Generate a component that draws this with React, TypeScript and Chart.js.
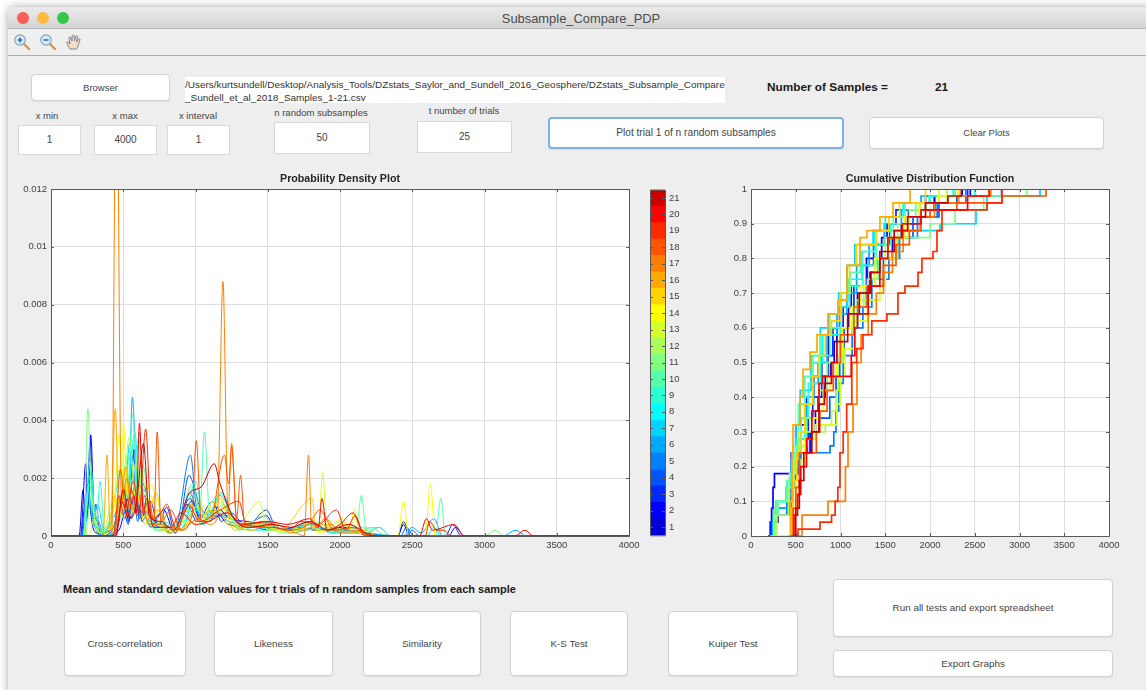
import React, { useEffect, useRef } from "react";
import { Chart, registerables } from "chart.js";

Chart.register(...registerables);

type Pt = [number, number];

const sampleLabels = ["1","2","3","4","5","6","7","8","9","10","11","12","13","14","15","16","17","18","19","20","21"];
const sampleColors = ["#0000d4","#0000ff","#002aff","#0055ff","#0080ff","#00aaff","#00d4ff","#00ffff","#2affd4","#55ffaa","#80ff80","#aaff55","#d4ff2a","#ffff00","#ffd400","#ffaa00","#ff8000","#ff5500","#ff2a00","#ff0000","#cc0000"];
const xTicks = [0, 500, 1000, 1500, 2000, 2500, 3000, 3500, 4000];

const pdp01: Pt[] = [[0,0],[195,0],[222,.0016],[240,.0005],[262,.0012],[290,.0003],[320,.0001],[440,.0003],[505,.0012],[540,.0005],[575,.003],[610,.0008],[650,.0014],[690,.0003],[760,.0008],[820,.0001],[905,.0006],[975,.0012],[1040,.0004],[1140,.0008],[1230,.0004],[1400,.0003],[1520,.0002],[1720,.0003],[1860,.0002],[2020,.0003],[2120,.0001],[2400,0],[2440,.0004],[2480,0],[4000,0]];
const pdp02: Pt[] = [[0,0],[205,0],[240,.0025],[258,.0008],[275,.0035],[300,.0007],[330,.0005],[360,0],[470,.0002],[540,.0014],[600,.0007],[640,.0018],[700,.0004],[780,.0009],[850,.0002],[960,.0013],[1050,.0005],[1140,.001],[1240,.0006],[1360,.0005],[1500,.0004],[1620,.0002],[1780,.0004],[1950,.0002],[2080,.0003],[2200,0],[2750,0],[2800,.0003],[2860,0],[4000,0]];
const pdp03: Pt[] = [[0,0],[210,0],[232,.001],[250,.0006],[270,.0034],[295,.0006],[310,.0011],[345,0],[460,.0005],[515,.0016],[555,.0006],[590,.0024],[630,.0005],[690,.0012],[740,0.0003],[800,.001],[860,.0001],[940,.0011],[1010,.0005],[1120,.0012],[1180,.0005],[1245,.0008],[1340,.0004],[1490,.0007],[1560,.0002],[1800,.0004],[1900,.0002],[2060,.0002],[2180,.0001],[2400,0],[2440,.0005],[2490,0],[2730,0],[2780,.0004],[2840,0],[4000,0]];
const pdp04: Pt[] = [[0,0],[215,0],[250,.0018],[285,.0005],[315,.0003],[360,0],[450,.0002],[500,.0009],[535,.0004],[570,.0028],[610,.0006],[660,.0011],[700,.0006],[770,.0004],[880,.0003],[955,.0021],[985,.0018],[1040,.0009],[1150,.0007],[1240,.0007],[1350,.0003],[1490,.0009],[1570,.0002],[1730,.0003],[1830,.0002],[2100,.0003],[2190,0],[2420,0],[2460,.0003],[2510,0],[4000,0]];
const pdp05: Pt[] = [[0,0],[225,0],[262,.0014],[300,.0004],[340,0],[430,.0003],[490,.0013],[530,.0005],[555,.0025],[600,.0005],[640,.0016],[720,.0003],[860,.0003],[965,.0028],[1010,.0009],[1100,.0006],[1200,.0008],[1320,.0003],[1460,.0005],[1620,.0002],[1790,.0005],[1950,.0001],[2120,.0003],[2200,0],[2450,0],[2500,.0002],[2550,0],[4000,0]];
const pdp06: Pt[] = [[0,0],[215,0],[255,.0012],[300,.0009],[345,0],[440,.0007],[500,.0015],[535,.0008],[563,.0048],[600,.0012],[650,.001],[720,.0003],[880,.0004],[960,.0015],[1030,.0007],[1120,.0009],[1230,.0005],[1380,.0004],[1530,.0003],[1740,.0002],[1900,.0003],[2050,.0002],[2180,.0001],[2440,0],[2500,.0003],[2560,.0001],[2650,.0006],[2710,0],[3130,0],[3215,.0002],[3290,0],[4000,0]];
const pdp07: Pt[] = [[0,0],[225,0],[258,.0016],[290,.0006],[322,.0011],[370,.0001],[450,.0012],[500,.0008],[545,.0032],[590,.0011],[630,.0009],[690,.0003],[770,.0005],[900,.0002],[990,.0012],[1060,.0004],[1170,.0014],[1280,.0005],[1460,.0003],[1620,.0002],[1820,.0003],[2040,.0001],[2190,.0001],[2270,.0003],[2350,0],[2600,0],[2650,.0003],[2700,0],[4000,0]];
const pdp08: Pt[] = [[0,0],[230,0],[270,.0021],[305,.0005],[350,.0002],[410,.0004],[480,.0022],[520,.0007],[580,.0036],[620,.001],[665,.0012],[720,.0002],[880,.0002],[1000,.0009],[1080,.0006],[1180,.0015],[1290,.0004],[1420,.0003],[1600,.0002],[1810,.0004],[1980,.0001],[2270,.0003],[2350,0],[4000,0]];
const pdp09: Pt[] = [[0,0],[225,0],[272,.0026],[312,.0003],[340,.0019],[372,0],[470,.0006],[530,.0028],[570,.0008],[610,.0036],[650,.0008],[700,.0007],[800,.0002],[930,.0006],[1000,.0019],[1050,.0008],[1100,.0007],[1170,.0015],[1300,.0003],[1420,.0002],[1600,.0002],[1780,.0003],[1960,.0001],[2080,.0003],[2150,.0002],[2210,0],[4000,0]];
const pdp10: Pt[] = [[0,0],[220,0],[268,.0018],[310,.0004],[345,.0003],[390,0],[480,.0009],[535,.0019],[565,.0042],[600,.0014],[640,.0024],[690,.0003],[860,.0002],[980,.0018],[1030,.0009],[1062,.0036],[1100,.0005],[1190,.0011],[1300,.0002],[1480,.0004],[1640,.0001],[1900,.0003],[2080,.0002],[2112,.0002],[2148,.0014],[2180,.0002],[2225,0],[2660,0],[2698,.0013],[2730,0],[4000,0]];
const pdp11: Pt[] = [[0,0],[228,0],[255,.0044],[285,.0009],[312,.0008],[360,0],[450,.0004],[520,.0021],[560,.0008],[600,.0028],[645,.0007],[700,.0005],[820,.0001],[960,.0009],[1040,.0005],[1150,.0014],[1260,.0005],[1400,.0003],[1500,.0004],[1680,.0001],[1800,.0005],[2000,.0002],[2100,.0003],[2200,.0003],[2330,0],[3000,0],[3070,.0002],[3140,0],[4000,0]];
const pdp12: Pt[] = [[0,0],[240,0],[275,.0014],[315,.0002],[350,.0001],[440,.0013],[490,.0006],[540,.0034],[590,.0011],[625,.0022],[680,.0006],[740,.0002],[880,.0003],[970,.0011],[1040,.0004],[1160,.0012],[1240,.0006],[1340,.0003],[1470,.0007],[1580,.0001],[1760,.0004],[1890,.0003],[2010,.0005],[2130,.0001],[2190,.0003],[2240,0],[4000,0]];
const pdp13: Pt[] = [[0,0],[260,0],[300,.0006],[340,.0001],[425,.0009],[480,.0024],[515,.0009],[590,.0025],[640,.0006],[690,.0014],[760,.0003],[900,.0002],[1010,.001],[1060,.0005],[1180,.001],[1300,.0004],[1380,.0009],[1440,.0012],[1500,.0002],[1700,.0002],[1800,.0003],[1850,.0002],[1880,.0022],[1910,.0002],[2010,.0004],[2120,.0002],[2200,0],[4000,0]];
const pdp14: Pt[] = [[0,0],[300,0],[420,.0002],[475,.0035],[495,.0012],[500,.0039],[530,.0013],[575,.0015],[640,.0009],[685,.0018],[735,.0012],[820,.0003],[960,.0005],[1020,.0004],[1120,.0012],[1250,.0003],[1400,.0005],[1600,.0002],[1810,.0003],[1860,.0001],[2025,.0006],[2070,.0002],[2100,.001],[2130,.0001],[2400,0],[2440,.0012],[2475,0],[2590,0],[2625,.0018],[2660,0],[4000,0]];
const pdp15: Pt[] = [[0,0],[340,0],[395,.0002],[440,.0014],[480,.0007],[515,.0024],[550,.0007],[600,.0014],[650,.0004],[730,.0015],[780,.0002],[920,.0003],[1030,.0012],[1080,.0005],[1170,.0013],[1270,.0002],[1420,.0004],[1580,.0002],[1810,.0013],[1830,.0002],[1970,.0002],[2070,.0004],[2200,0],[4000,0]];
const pdp16: Pt[] = [[0,0],[360,0],[388,.0028],[410,.0002],[445,.0044],[470,.0008],[520,.0024],[555,.0009],[610,.0018],[670,.0005],[740,.0009],[810,.0001],[950,.0004],[1040,.0007],[1120,.0009],[1280,.0003],[1400,.0002],[1540,.0005],[1660,.0001],[1800,.0003],[1930,.0004],[2060,.0001],[2180,.0002],[2250,0],[4000,0]];
const pdp17: Pt[] = [[0,0],[420,0],[452,.018],[488,.0012],[525,.002],[560,.0009],[620,.0013],[680,.0004],[760,.0004],[900,.0002],[1020,.0006],[1100,.0004],[1150,.0006],[1190,.0088],[1225,.0008],[1250,.0032],[1285,.0005],[1400,.0003],[1540,.0004],[1700,.0001],[1752,0],[1782,.0028],[1805,.0002],[1900,.0006],[2000,.0001],[2100,.0002],[2200,0],[4000,0]];
const pdp18: Pt[] = [[0,0],[440,0],[480,.0023],[520,.0008],[555,.0016],[600,.0007],[680,.0012],[712,.0005],[735,.0036],[760,.0005],[830,.0009],[900,.0002],[975,.0007],[1005,.0033],[1040,.0005],[1100,.0005],[1200,.0028],[1230,.0018],[1250,.0031],[1285,.0006],[1312,.0021],[1340,.0004],[1500,.0005],[1620,.0002],[1780,.0004],[1860,.0009],[1960,.0002],[2100,.0003],[2180,0],[4000,0]];
const pdp19: Pt[] = [[0,0],[430,0],[470,.0014],[510,.0006],[570,.0019],[610,.0008],[655,.0037],[695,.0006],[760,.0008],[800,.0011],[870,.0002],[950,.0011],[1030,.0005],[1170,.0009],[1300,.0012],[1350,.0004],[1530,.0003],[1650,.0002],[1730,.0005],[1850,.0004],[1975,.0009],[2040,.0002],[2105,.0007],[2170,0],[2590,0],[2620,.0005],[2670,.0002],[2720,.0002],[2770,0],[4000,0]];
const pdp20: Pt[] = [[0,0],[445,0],[490,.0012],[530,.0007],[575,.0014],[590,.0008],[612,.0039],[640,.0007],[660,.0013],[710,.0003],[830,.0003],[900,.0008],[1000,.0004],[1090,.0005],[1220,.0008],[1320,.0004],[1500,.0005],[1640,.0004],[1790,.0006],[1850,.0003],[1875,.0013],[1910,.0002],[2000,.0004],[2090,.0008],[2150,.0002],[2240,0],[2550,0],[2598,.0006],[2640,.0002],[2790,.0004],[2860,0],[3210,0],[3280,.0002],[3340,0],[4000,0]];
const pdp21: Pt[] = [[0,0],[450,0],[500,.0016],[545,.0006],[590,.0011],[640,.0032],[680,.0007],[760,.0005],[850,.0002],[960,.0015],[1040,.0017],[1130,.0025],[1170,.0018],[1280,.0005],[1380,.0003],[1520,.0004],[1660,.0003],[1790,.0005],[1920,.0002],[2060,.0004],[2180,.0001],[2260,0],[4000,0]];
const pdpSeries: Pt[][] = [pdp01,pdp02,pdp03,pdp04,pdp05,pdp06,pdp07,pdp08,pdp09,pdp10,pdp11,pdp12,pdp13,pdp14,pdp15,pdp16,pdp17,pdp18,pdp19,pdp20,pdp21];

const cdf01: Pt[] = [[215,0],[245,.04],[300,.06],[430,.08],[450,.14],[490,.2],[560,.24],[660,.3],[720,.36],[750,.4],[830,.46],[890,.5],[930,.56],[960,.6],[1090,.66],[1190,.7],[1330,.76],[1420,.8],[1580,.86],[1680,.9],[1900,.94],[2050,.98],[2360,1],[4000,1]];
const cdf02: Pt[] = [[190,0],[215,.04],[230,.08],[246,.14],[262,.18],[436,.18],[450,.24],[500,.32],[620,.4],[700,.46],[790,.52],[870,.6],[990,.66],[1120,.72],[1290,.8],[1460,.86],[1520,.9],[1760,.94],[2050,.98],[2450,1],[4000,1]];
const cdf03: Pt[] = [[205,0],[225,.04],[260,.08],[420,.1],[450,.16],[490,.22],[530,.28],[640,.34],[690,.4],[790,.46],[860,.52],[915,.6],[1030,.66],[1150,.72],[1300,.78],[1370,.84],[1550,.9],[1620,.94],[1950,.98],[2420,1],[4000,1]];
const cdf04: Pt[] = [[220,0],[250,.06],[420,.1],[470,.18],[530,.24],[630,.3],[760,.34],[880,.4],[950,.46],[990,.52],[1040,.6],[1190,.66],[1290,.72],[1480,.8],[1640,.86],[1810,.92],[2100,.96],[2300,.98],[2800,1],[4000,1]];
const cdf05: Pt[] = [[225,0],[255,.06],[400,.1],[460,.18],[520,.24],[883,.26],[925,.3],[950,.36],[980,.44],[1030,.52],[1130,.6],[1250,.66],[1350,.74],[1540,.8],[1660,.86],[1860,.92],[2080,.96],[2400,1],[4000,1]];
const cdf06: Pt[] = [[210,0],[240,.04],[290,.08],[420,.12],[455,.2],[560,.3],[620,.38],[700,.44],[750,.5],[850,.58],[960,.64],[1070,.7],[1180,.78],[1320,.84],[1490,.9],[1680,.94],[1900,.98],[2320,1],[4000,1]];
const cdf07: Pt[] = [[215,0],[250,.06],[280,.1],[400,.14],[450,.22],[500,.32],[550,.42],[670,.52],[775,.6],[870,.64],[980,.7],[1075,.78],[1160,.84],[1365,.88],[2111,.9],[2514,.94],[2637,.98],[3229,1],[4000,1]];
const cdf08: Pt[] = [[225,0],[260,.05],[290,.1],[390,.14],[460,.2],[510,.28],[600,.4],[690,.5],[800,.58],[1000,.68],[1090,.74],[1240,.82],[1380,.88],[1500,.92],[1700,.96],[2000,.98],[2260,1],[4000,1]];
const cdf09: Pt[] = [[230,0],[260,.06],[300,.1],[410,.16],[480,.24],[560,.34],[640,.44],[780,.52],[880,.6],[1000,.66],[1100,.72],[1250,.78],[1400,.84],[1560,.9],[1720,.96],[1990,.98],[2500,1],[4000,1]];
const cdf10: Pt[] = [[215,0],[255,.06],[285,.1],[400,.16],[470,.26],[530,.38],[600,.46],[690,.52],[780,.58],[880,.64],[1010,.7],[1110,.76],[1220,.82],[1400,.88],[1590,.92],[1840,.96],[2100,.98],[2280,1],[4000,1]];
const cdf11: Pt[] = [[235,0],[262,.08],[300,.1],[430,.18],[500,.26],[620,.34],[760,.42],[850,.5],[990,.6],[1180,.68],[1300,.74],[1420,.8],[1640,.86],[2000,.9],[2280,.94],[2600,.98],[3080,1],[4000,1]];
const cdf12: Pt[] = [[250,0],[285,.06],[420,.14],[480,.22],[530,.3],[830,.32],[900,.36],[950,.42],[975,.5],[1030,.58],[1130,.66],[1260,.72],[1380,.8],[1500,.86],[1640,.9],[1770,.94],[1960,.96],[2190,1],[4000,1]];
const cdf13: Pt[] = [[285,0],[440,.08],[500,.16],[560,.22],[600,.28],[720,.32],[960,.38],[1000,.46],[1050,.54],[1150,.62],[1300,.68],[1440,.72],[1500,.8],[1620,.86],[1760,.92],[1880,.96],[2100,1],[4000,1]];
const cdf14: Pt[] = [[430,0],[460,.06],[500,.14],[560,.2],[600,.28],[680,.34],[760,.36],[810,.42],[880,.46],[950,.52],[1020,.6],[1120,.66],[1230,.72],[1390,.8],[1530,.86],[1710,.92],[1900,.96],[2090,.98],[2320,1],[4000,1]];
const cdf15: Pt[] = [[400,0],[440,.06],[470,.16],[510,.24],[560,.3],[600,.38],[690,.46],[760,.52],[830,.58],[900,.62],[1000,.7],[1100,.78],[1180,.84],[1400,.88],[1540,.92],[1660,.96],[1950,1],[4000,1]];
const cdf16: Pt[] = [[420,0],[445,.1],[458,.24],[469,.32],[547,.4],[581,.48],[659,.53],[737,.58],[860,.64],[972,.68],[1073,.78],[1218,.86],[1296,.88],[1441,.92],[1587,.96],[1777,1],[4000,1]];
const cdf17: Pt[] = [[450,0],[570,.06],[860,.1],[1028,.1],[1055,.2],[1084,.3],[1140,.38],[1184,.5],[1230,.58],[1310,.64],[1400,.7],[1480,.76],[1580,.82],[1700,.88],[1890,.92],[2050,.96],[2320,.98],[2680,1],[4000,1]];
const cdf18: Pt[] = [[440,0],[470,.08],[500,.14],[540,.24],[730,.3],[770,.36],[850,.42],[920,.5],[1000,.58],[1150,.66],[1300,.72],[1480,.78],[1620,.84],[1770,.88],[1900,.92],[2000,.94],[2300,.96],[2804,.98],[3296,1],[4000,1]];
const cdf19: Pt[] = [[505,0],[525,.02],[771,.04],[900,.06],[940,.1],[970,.14],[994,.24],[1030,.3],[1069,.38],[1126,.5],[1181,.54],[1251,.58],[1350,.62],[1519,.64],[1642,.7],[1720,.72],[1866,.76],[1910,.8],[2033,.82],[2078,.88],[2134,.94],[2637,.96],[2804,1],[4000,1]];
const cdf20: Pt[] = [[450,0],[480,.06],[520,.12],[555,.2],[620,.28],[680,.36],[760,.44],[800,.46],[1120,.52],[1160,.6],[1190,.64],[1310,.72],[1440,.8],[1530,.86],[1690,.9],[1900,.94],[2420,.98],[2660,1],[4000,1]];
const cdf21: Pt[] = [[470,0],[500,.08],[540,.16],[590,.24],[680,.3],[760,.38],[820,.44],[900,.5],[960,.56],[1080,.64],[1210,.7],[1340,.76],[1440,.82],[1600,.88],[1750,.92],[1950,.96],[2200,.98],[2350,1],[4000,1]];
const cdfSeries: Pt[][] = [cdf01,cdf02,cdf03,cdf04,cdf05,cdf06,cdf07,cdf08,cdf09,cdf10,cdf11,cdf12,cdf13,cdf14,cdf15,cdf16,cdf17,cdf18,cdf19,cdf20,cdf21];

const FONT = '"Liberation Sans", Arial, sans-serif';
const TEXT = "#404040";
const GRID = "#dedede";
const EDGE = "#5a5a5a";

const framePlugin = {
  id: "frame",
  beforeDraw(chart: any) {
    const { ctx, chartArea: a } = chart;
    ctx.save();
    ctx.fillStyle = "#ffffff";
    ctx.fillRect(a.left, a.top, a.right - a.left, a.bottom - a.top);
    ctx.restore();
  },
  afterDatasetsDraw(chart: any) {
    const { ctx, chartArea: a, scales } = chart;
    ctx.save();
    ctx.strokeStyle = EDGE;
    ctx.lineWidth = 1;
    ctx.beginPath();
    ctx.rect(a.left + 0.5, a.top + 0.5, a.right - a.left, a.bottom - a.top);
    const xs = scales.x;
    const ys = scales.y;
    if (xs && xs.options.display) {
      xs.ticks.forEach((t: any) => {
        const p = Math.round(xs.getPixelForValue(t.value)) + 0.5;
        ctx.moveTo(p, a.bottom); ctx.lineTo(p, a.bottom - 3);
        ctx.moveTo(p, a.top); ctx.lineTo(p, a.top + 3);
      });
    }
    ys.ticks.forEach((t: any) => {
      const p = Math.round(ys.getPixelForValue(t.value)) + 0.5;
      ctx.moveTo(a.left, p); ctx.lineTo(a.left + 3, p);
      ctx.moveTo(a.right, p); ctx.lineTo(a.right - 3, p);
    });
    ctx.stroke();
    ctx.restore();
  },
};

function lineChart(canvas: HTMLCanvasElement, title: string, series: Pt[][], yMax: number, step: number, stepped: boolean, padRight: number) {
  return new Chart(canvas, {
    type: "line",
    data: {
      datasets: series.map((s, i) => ({
        label: sampleLabels[i],
        data: s.map(([x, y]) => ({ x, y })),
        borderColor: sampleColors[i],
        borderWidth: stepped ? 1.7 : 1,
        pointRadius: 0,
        fill: false,
        order: series.length - i,
        stepped: stepped ? ("before" as const) : false,
        cubicInterpolationMode: stepped ? ("default" as const) : ("monotone" as const),
      })),
    },
    options: {
      animation: false,
      responsive: false,
      maintainAspectRatio: false,
      parsing: false,
      layout: { padding: { left: 0, right: padRight, top: 0, bottom: 0 } },
      plugins: {
        legend: { display: false },
        tooltip: { enabled: false },
        title: {
          display: true,
          fullSize: false,
          text: title,
          color: "#262626",
          font: { family: FONT, size: 10.7, weight: "bold" },
          padding: { top: 3, bottom: 3.2 },
        },
      },
      scales: {
        x: {
          type: "linear",
          min: 0,
          max: 4000,
          afterBuildTicks: (s: any) => { s.ticks = xTicks.map((value) => ({ value })); },
          afterFit: (s: any) => { s.height = 20; },
          grid: { color: GRID, drawTicks: false },
          border: { display: false },
          ticks: { color: TEXT, font: { family: FONT, size: 9.5 }, padding: 4, maxRotation: 0, callback: (v: any) => String(v) },
        },
        y: {
          type: "linear",
          min: 0,
          max: yMax,
          afterFit: (s: any) => { s.width = 31; },
          grid: { color: GRID, drawTicks: false },
          border: { display: false },
          ticks: { color: TEXT, font: { family: FONT, size: 9.5 }, padding: 4, stepSize: step, callback: (v: any) => String(+Number(v).toFixed(3)) },
        },
      },
    },
    plugins: [framePlugin],
  } as any);
}

function colorbarChart(canvas: HTMLCanvasElement) {
  return new Chart(canvas, {
    type: "bar",
    data: {
      labels: ["n"],
      datasets: sampleLabels.map((l, i) => ({
        label: l,
        data: [1],
        backgroundColor: sampleColors[i],
        barPercentage: 1,
        categoryPercentage: 1,
        borderWidth: 0,
      })),
    },
    options: {
      animation: false,
      responsive: false,
      maintainAspectRatio: false,
      layout: { padding: { top: 9, bottom: 9, left: 10, right: 0 } },
      plugins: { legend: { display: false }, tooltip: { enabled: false } },
      scales: {
        x: { stacked: true, display: false },
        y: {
          stacked: true,
          position: "right",
          min: 0,
          max: sampleLabels.length,
          afterBuildTicks: (s: any) => { s.ticks = sampleLabels.map((_, i) => ({ value: i + 0.5 })); },
          afterFit: (s: any) => { s.width = 25; },
          grid: { display: false, drawTicks: false },
          border: { display: false },
          ticks: { color: TEXT, font: { family: FONT, size: 9.5 }, padding: 4, callback: (v: any) => String(Number(v) + 0.5) },
        },
      },
    },
    plugins: [framePlugin],
  } as any);
}

const abs = (left: number, top: number, width: number, height: number): React.CSSProperties => ({ position: "absolute", left, top, width, height, boxSizing: "border-box" });

function Label({ cx, y, children }: any) {
  return (
    <div style={{ position: "absolute", left: cx - 150, top: y - 8, width: 300, height: 16, lineHeight: "16px", textAlign: "center", fontSize: 9.5, color: "#444" }}>{children}</div>
  );
}

function Field({ x, y, w, h, value }: any) {
  return (
    <div style={{ ...abs(x, y, w, h), background: "#fff", border: "1px solid #d8d8d8", textAlign: "center", lineHeight: h - 2 + "px", fontSize: 10, color: "#444" }}>{value}</div>
  );
}

function Btn({ x, y, w, h, text, focus, size = 9.9 }: any) {
  return (
    <div style={{ ...abs(x, y, w, h), background: "#fff", border: focus ? "2px solid #7fb0ea" : "1px solid #d2d2d2", borderRadius: 4, textAlign: "center", lineHeight: (focus ? h - 4 : h - 2) + "px", fontSize: size, color: "#444", boxShadow: "0 1px 1px rgba(0,0,0,.08)" }}>{text}</div>
  );
}

function Lens({ x, sign }: { x: number; sign: string }) {
  return (
    <svg style={{ position: "absolute", left: x, top: 33 }} width="18" height="18" viewBox="0 0 18 18">
      <line x1="10" y1="10" x2="16" y2="16" stroke="#d8973a" strokeWidth="2.4" strokeLinecap="round" />
      <circle cx="7" cy="7" r="5.2" fill="#d5ecfa" stroke="#7fa3c7" strokeWidth="1.2" />
      <path d={sign === "+" ? "M4.5 7h5M7 4.5v5" : "M4.5 7h5"} stroke="#1d3f78" strokeWidth="1.2" />
    </svg>
  );
}

export default function App() {
  const pdpRef = useRef<HTMLCanvasElement>(null);
  const barRef = useRef<HTMLCanvasElement>(null);
  const cdfRef = useRef<HTMLCanvasElement>(null);

  useEffect(() => {
    document.body.style.margin = "0";
    document.body.style.background = "#fff";
    const charts = [
      lineChart(pdpRef.current!, "Probability Density Plot", pdpSeries, 0.012, 0.002, false, 31),
      lineChart(cdfRef.current!, "Cumulative Distribution Function", cdfSeries, 1, 0.1, true, 21),
      colorbarChart(barRef.current!),
    ];
    return () => charts.forEach((c) => c.destroy());
  }, []);

  return (
    <div style={{ position: "relative", width: 1146, height: 690, overflow: "hidden", fontFamily: FONT, background: "#fff", filter: "blur(0.5px)" }}>
      <div style={{ ...abs(8, 7, 1146, 690), background: "#eeeeee", borderRadius: "6px 6px 0 0", boxShadow: "0 0 8px rgba(0,0,0,.35)" }} />
      <div style={{ ...abs(8, 7, 1146, 22), background: "linear-gradient(#ebebeb,#d4d4d4)", borderRadius: "6px 6px 0 0", borderBottom: "1px solid #b8b8b8" }} />
      {[["#fc5b57", 23], ["#fdbc40", 43], ["#34c84a", 63]].map(([c, x]) => (
        <div key={String(x)} style={{ ...abs((x as number) - 6, 12, 12, 12), borderRadius: 6, background: c as string }} />
      ))}
      <div style={{ position: "absolute", left: 331, top: 10, width: 500, height: 18, lineHeight: "18px", textAlign: "center", fontSize: 12.9, color: "#4a4a4a" }}>Subsample_Compare_PDP</div>
      <div style={{ ...abs(8, 29, 1146, 27), background: "#efefef", borderBottom: "1px solid #ababab" }} />
      <Lens x={13} sign="+" />
      <Lens x={39} sign="-" />
      <svg style={{ position: "absolute", left: 65, top: 33 }} width="18" height="18" viewBox="0 0 18 18">
        <path d="M5 16C3 13 1.5 10 2 9c.7-1 2 0 3 2L4 5c0-1.4 1.6-1.4 2 0l1 3 .2-5c.2-1.3 1.8-1.3 2 0L9.500 8l1.300-4.500c.4-1.200 1.900-.8 1.700.5L11.500 9l2-3c.8-1 2-.3 1.500.8L13 13c-.5 1.500-1 2.400-1.500 3z" fill="#fbdcc0" stroke="#6a7f99" strokeWidth="0.9" />
      </svg>

      <Btn x={31} y={74} w={139} h={27} text="Browser" size={9.5} />
      <div style={{ ...abs(185, 77, 540, 26), background: "#fff", fontSize: 9.95, lineHeight: "13px", paddingTop: 1, color: "#333", whiteSpace: "nowrap" }}>
        /Users/kurtsundell/Desktop/Analysis_Tools/DZstats_Saylor_and_Sundell_2016_Geosphere/DZstats_Subsample_Compare<br />_Sundell_et_al_2018_Samples_1-21.csv
      </div>
      <div style={{ position: "absolute", left: 767, top: 79, height: 16, lineHeight: "16px", fontSize: 11.8, fontWeight: 700, color: "#1a1a1a", whiteSpace: "nowrap" }}>Number of Samples =</div>
      <div style={{ position: "absolute", left: 935, top: 79, height: 16, lineHeight: "16px", fontSize: 11.8, fontWeight: 700, color: "#1a1a1a" }}>21</div>

      <Label cx={47} y={116}>x min</Label>
      <Label cx={125} y={116}>x max</Label>
      <Label cx={198} y={116}>x interval</Label>
      <Label cx={321} y={113}>n random subsamples</Label>
      <Label cx={464} y={111}>t number of trials</Label>
      <Field x={18} y={125} w={63} h={30} value="1" />
      <Field x={94} y={125} w={63} h={30} value="4000" />
      <Field x={167} y={125} w={63} h={30} value="1" />
      <Field x={274} y={122} w={96} h={32} value="50" />
      <Field x={417} y={121} w={95} h={32} value="25" />
      <Btn x={548} y={117} w={296} h={32} text="Plot trial 1 of n random subsamples" focus size={10.2} />
      <Btn x={869} y={117} w={235} h={32} text="Clear Plots" size={9.5} />

      <canvas ref={pdpRef} width={640} height={386} style={{ position: "absolute", left: 20, top: 170 }} />
      <canvas ref={cdfRef} width={410} height={386} style={{ position: "absolute", left: 720, top: 170 }} />
      <canvas ref={barRef} width={50} height={365} style={{ position: "absolute", left: 640, top: 180 }} />

      <div style={{ position: "absolute", left: 63, top: 581, height: 16, lineHeight: "16px", fontSize: 11, fontWeight: 700, color: "#1a1a1a", whiteSpace: "nowrap" }}>Mean and standard deviation values for t trials of n random samples from each sample</div>
      <Btn x={64} y={611} w={122} h={65} text="Cross-correlation" />
      <Btn x={214} y={611} w={119} h={65} text="Likeness" />
      <Btn x={363} y={611} w={118} h={65} text="Similarity" />
      <Btn x={510} y={611} w={118} h={65} text="K-S Test" />
      <Btn x={668} y={611} w={130} h={65} text="Kuiper Test" />
      <Btn x={833} y={579} w={280} h={58} text="Run all tests and export spreadsheet" />
      <Btn x={833} y={650} w={280} h={27} text="Export Graphs" />
    </div>
  );
}
